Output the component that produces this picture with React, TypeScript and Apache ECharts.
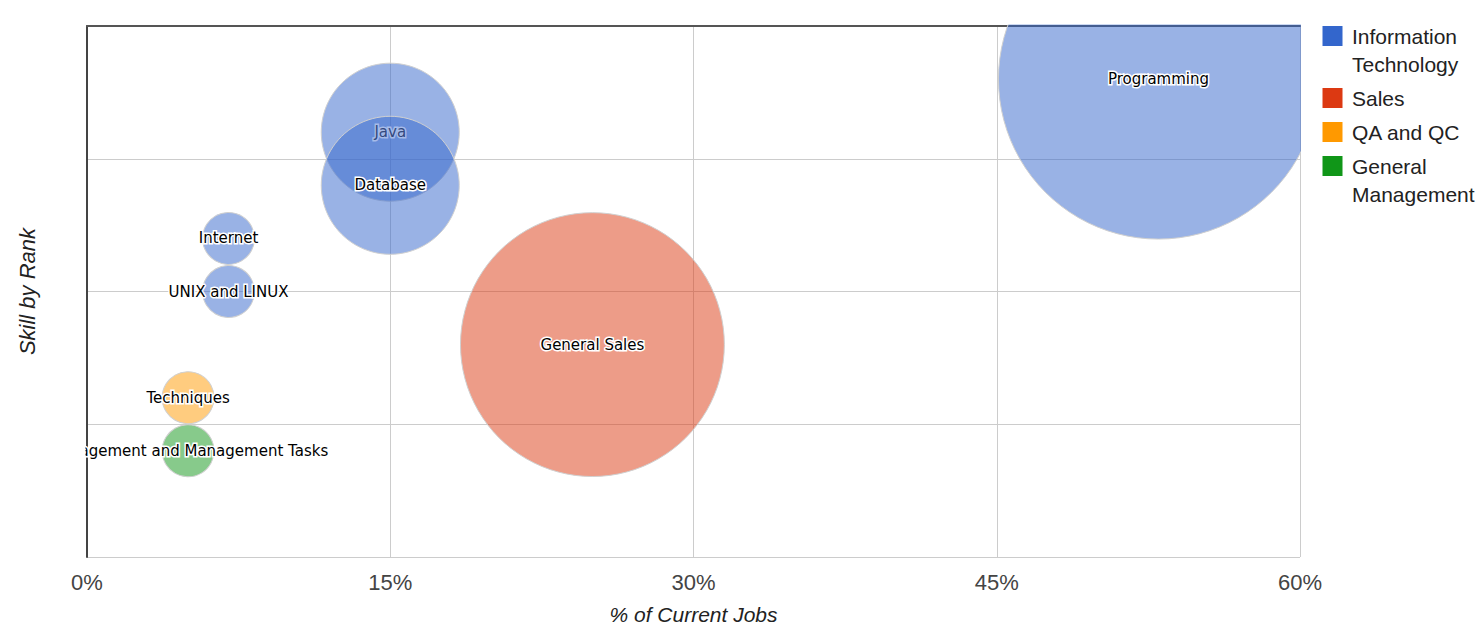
import React, { useEffect, useRef } from "react";
import * as echarts from "echarts";

const categories = ["Information Technology", "Sales", "QA and QC", "General Management"];
const categoryLegendLines = [["Information", "Technology"], ["Sales"], ["QA and QC"], ["General", "Management"]];
const categoryColors = ["#3366cc", "#dc3912", "#ff9900", "#109618"];
const categoryFills = [
  "rgba(51,102,204,0.5)",
  "rgba(220,57,18,0.5)",
  "rgba(255,153,0,0.5)",
  "rgba(16,150,24,0.5)",
];

const skills = [
  "Programming",
  "Java",
  "Database",
  "Internet",
  "UNIX and LINUX",
  "General Sales",
  "Techniques",
  "Management and Management Tasks",
];
const skillCategory = [0, 0, 0, 0, 0, 1, 2, 3];
const pctCurrentJobs = [53, 15, 15, 7, 7, 25, 5, 5];
const skillRank = [1, 2, 3, 4, 5, 6, 7, 8];
const bubbleSize = [100, 18.6, 18.6, 2.64, 2.64, 68, 2.64, 2.64];

const xTickLabels = ["0%", "15%", "30%", "45%", "60%"];

const FONT = "'Liberation Sans', Arial, sans-serif";
const LABEL_FONT = "'DejaVu Sans', Verdana, sans-serif";

export default function App() {
  const ref = useRef<HTMLDivElement>(null);

  useEffect(() => {
    document.body.style.margin = "0";
    const chart = echarts.init(ref.current!, null, { renderer: "svg" });

    const series = categories.map((cat, ci) => ({
      type: "scatter",
      name: cat,
      xAxisIndex: 0,
      yAxisIndex: 0,
      data: skills
        .map((s, i) => ({ s, i }))
        .filter(({ i }) => skillCategory[i] === ci)
        .map(({ s, i }) => ({
          name: s,
          value: [pctCurrentJobs[i], skillRank[i], bubbleSize[i]],
          label:
            s === "Java"
              ? { color: "#34497f", textBorderColor: "#a6bbe8" }
              : undefined,
        })),
      symbolSize: (v: number[]) => Math.sqrt(v[2]) * 32,
      itemStyle: {
        color: categoryFills[ci],
        opacity: 1,
        borderColor: "#d0d0d0",
        borderWidth: 1,
      },
      label: {
        show: true,
        position: "inside",
        formatter: (p: any) => p.name,
        color: "#000",
        fontFamily: LABEL_FONT,
        fontSize: 15,
        textBorderColor: "#fff",
        textBorderWidth: 3,
      },
      emphasis: { disabled: true },
      z: 2,
    }));

    const legendGraphics: any[] = [];
    let cy = 36;
    categoryLegendLines.forEach((lines, ci) => {
      legendGraphics.push({
        type: "rect",
        shape: { x: 1322, y: cy - 10.5, width: 21, height: 21 },
        style: { fill: categoryColors[ci], stroke: "#ffffff", lineWidth: 1 },
        z: 100,
      });
      lines.forEach((line, li) => {
        legendGraphics.push({
          type: "text",
          x: 1352,
          y: cy + li * 28,
          style: {
            text: line,
            fill: "#222",
            font: `21px ${FONT}`,
            textVerticalAlign: "middle",
          },
          z: 100,
        });
      });
      cy += lines.length * 28 + 6;
    });

    chart.setOption({
      animation: false,
      grid: {
        left: 87,
        right: 183,
        top: 26,
        bottom: 72,
        containLabel: false,
        outerBoundsMode: "none",
      },
      xAxis: [
        {
          type: "value",
          min: 0,
          max: 60,
          interval: 15,
          position: "bottom",
          axisLine: { show: false, onZero: false },
          axisTick: { show: false },
          axisLabel: {
            margin: 14,
            color: "#444",
            fontFamily: FONT,
            fontSize: 22,
            formatter: (v: number) => xTickLabels[Math.round(v / 15)],
          },
          splitLine: { show: true, lineStyle: { color: "#cccccc", width: 1 } },
          name: "% of Current Jobs",
          nameLocation: "middle",
          nameGap: 47,
          nameTextStyle: { fontFamily: FONT, fontSize: 21, fontStyle: "italic", color: "#222" },
        },
        {
          type: "value",
          min: 0,
          max: 60,
          interval: 15,
          position: "top",
          axisLine: { show: true, onZero: false, lineStyle: { color: "#555", width: 2 } },
          axisTick: { show: false },
          axisLabel: { show: false },
          splitLine: { show: false },
        },
      ],
      yAxis: {
        type: "value",
        inverse: true,
        min: 0,
        max: 10,
        interval: 2.5,
        axisLine: { show: true, onZero: false, lineStyle: { color: "#444", width: 2 } },
        axisTick: { show: false },
        axisLabel: { show: false },
        splitLine: { show: true, lineStyle: { color: "#cccccc", width: 1 } },
        name: "Skill by Rank",
        nameLocation: "middle",
        nameGap: 49,
        nameTextStyle: { fontFamily: FONT, fontSize: 22, fontStyle: "italic", color: "#222" },
      },
      series,
      graphic: [
        {
          type: "rect",
          shape: { x: 0, y: 437, width: 85.5, height: 30 },
          style: { fill: "#ffffff" },
          z: 100,
        },
        {
          type: "rect",
          shape: { x: 880, y: 0, width: 440, height: 24.5 },
          style: { fill: "#ffffff" },
          z: 100,
        },
        {
          type: "rect",
          shape: { x: 1301, y: 0, width: 19, height: 300 },
          style: { fill: "#ffffff" },
          z: 100,
        },
        ...legendGraphics,
      ],
    });

    return () => chart.dispose();
  }, []);

  return <div ref={ref} style={{ width: 1483, height: 629 }} />;
}
